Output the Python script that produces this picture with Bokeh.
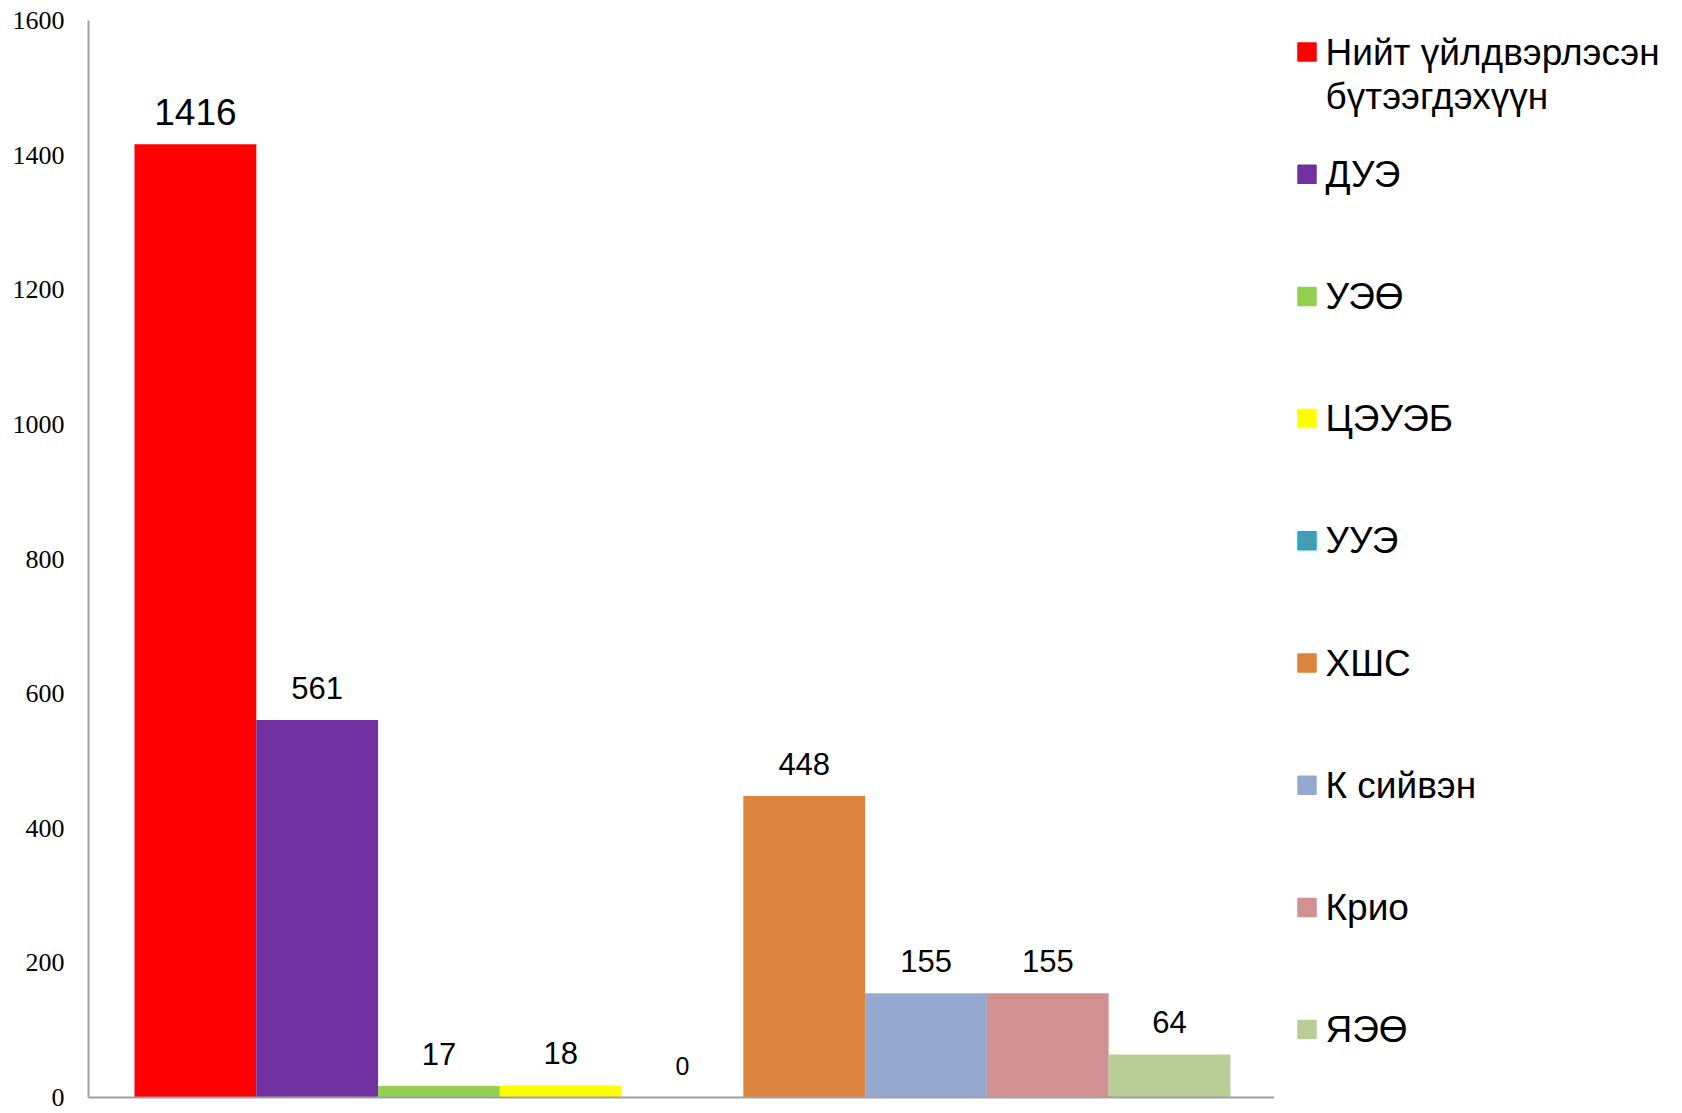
from bokeh.plotting import figure
from bokeh.models import Range1d, ColumnDataSource, FixedTicker
from bokeh.layouts import row
from bokeh.embed import file_html
from bokeh.resources import INLINE
from bokeh.core.properties import value

# ---- data ----
series = ["Нийт үйлдвэрлэсэн\nбүтээгдэхүүн", "ДУЭ", "УЭӨ", "ЦЭУЭБ", "УУЭ",
          "ХШС", "К сийвэн", "Крио", "ЯЭӨ"]
values = [1416, 561, 17, 18, 0, 448, 155, 155, 64]
y_ticks = [0, 200, 400, 600, 800, 1000, 1200, 1400, 1600]

# ---- styles ----
colors = ["#FF0000", "#7030A0", "#92D050", "#FFFF00", "#4A9AB0",
          "#DB833F", "#95A9D0", "#D29191", "#B9CD97"]
legend_line_colors = [None, None, None, None, "#00B0F0", None, None, None, None]
label_sizes = ["37px", "31px", "31px", "31px", "25px", "31px", "31px", "31px", "31px"]

FIG_H = 1112
TOP_B = 20
BOT_B = 15
MAIN_W = 1274
LEG_W = 1666 - MAIN_W

xs = [i + 0.5 for i in range(len(values))]
src = ColumnDataSource(dict(x=xs, top=values, color=colors,
                            label=[str(v) for v in values], size=label_sizes))

p = figure(width=MAIN_W, height=FIG_H, x_range=Range1d(-0.378, len(values) + 0.362),
           y_range=Range1d(0, 1600), output_backend="svg", toolbar_location=None,
           min_border_left=88, min_border_right=0, min_border_top=TOP_B, min_border_bottom=BOT_B)
p.vbar(x="x", top="top", width=1.0, bottom=0, fill_color="color", line_color=None, source=src)
p.text(x="x", y="top", text="label", source=src, text_align="center",
       text_baseline="middle", y_offset=-32, text_font=value("Liberation Sans"),
       text_font_size="size", text_color="#000000")

p.grid.visible = False
p.outline_line_color = None
p.background_fill_color = "white"
p.border_fill_color = "white"

p.yaxis.ticker = FixedTicker(ticks=y_ticks)
p.yaxis.major_tick_line_color = None
p.yaxis.major_tick_out = 0
p.yaxis.major_tick_in = 0
p.yaxis.minor_tick_line_color = None
p.yaxis.major_label_text_font = "Liberation Serif"
p.yaxis.major_label_text_font_size = "26px"
p.yaxis.major_label_text_color = "#000000"
p.yaxis.major_label_standoff = 24
p.yaxis.axis_line_color = "#A0A0A0"
p.yaxis.axis_line_width = 2

p.xaxis.ticker = FixedTicker(ticks=[])
p.xaxis.major_tick_line_color = None
p.xaxis.major_tick_out = 0
p.xaxis.major_tick_in = 0
p.xaxis.minor_tick_line_color = None
p.xaxis.major_label_standoff = 0
p.xaxis.major_label_text_font_size = "0px"
p.xaxis.axis_line_color = "#A0A0A0"
p.xaxis.axis_line_width = 2

# ---- legend (manual), coordinates in page pixels ----
lg = figure(width=LEG_W, height=FIG_H, x_range=Range1d(0, LEG_W),
            y_range=Range1d(FIG_H - BOT_B, TOP_B),
            output_backend="svg", toolbar_location=None,
            min_border_left=0, min_border_right=0, min_border_top=TOP_B, min_border_bottom=BOT_B)
lg.axis.visible = False
lg.grid.visible = False
lg.outline_line_color = None

step = 122.2
y0 = 51.5
line_h = 44
mx, my, mc, mlc = [], [], [], []
tx, ty, tt = [], [], []
for i, name in enumerate(series):
    yy = y0 + step * i
    mx.append(32.5); my.append(yy); mc.append(colors[i])
    mlc.append(legend_line_colors[i] if legend_line_colors[i] else colors[i])
    for k, line in enumerate(name.split("\n")):
        tx.append(51); ty.append(yy + k * line_h); tt.append(line)

lg.rect(x=mx, y=my, width=18, height=18, fill_color=mc, line_color=mlc, line_width=1.5)
lg.text(x=tx, y=ty, text=tt, text_align="left", text_baseline="middle",
        text_font=value("Liberation Sans"), text_font_size="37px", text_color="#000000")

layout = row(p, lg, spacing=0)
open("out.html", "w").write(file_html(layout, INLINE))
